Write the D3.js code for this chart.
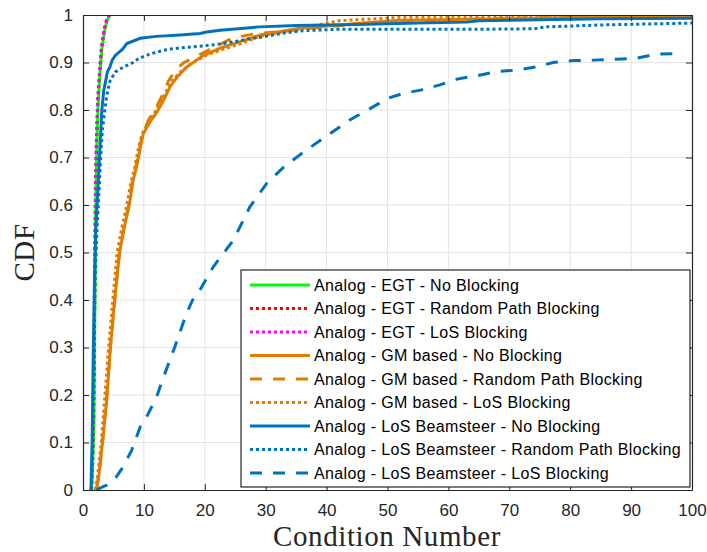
<!DOCTYPE html>
<html>
<head>
<meta charset="utf-8">
<script src="https://cdn.jsdelivr.net/npm/d3@7"></script>
<style>
  body { margin: 0; background: #fff; }
  svg { display: block; }
</style>
</head>
<body>
<div id="chart"></div>
<script>
// Axis ticks
const xTicks = [0, 10, 20, 30, 40, 50, 60, 70, 80, 90, 100];
const yTicks = [0, 0.1, 0.2, 0.3, 0.4, 0.5, 0.6, 0.7, 0.8, 0.9, 1];

// Series data: [condition number, CDF]
const egtNoBlock = [[1.4,0],[1.6,0.05],[1.8,0.15],[1.9,0.3],[2.0,0.45],[2.1,0.6],[2.25,0.72],[2.5,0.82],[2.8,0.88],[3.1,0.93],[3.6,0.97],[4.0,0.99],[4.4,1.0]];
const egtRandom = [[1.4,0],[1.55,0.05],[1.75,0.15],[1.85,0.3],[1.95,0.45],[2.05,0.6],[2.2,0.72],[2.45,0.82],[2.75,0.88],[3.05,0.93],[3.5,0.97],[3.9,0.99],[4.3,1.0]];
const egtLos = [[1.35,0],[1.5,0.05],[1.7,0.15],[1.8,0.3],[1.9,0.45],[2.0,0.6],[2.15,0.72],[2.4,0.82],[2.7,0.88],[3.0,0.93],[3.45,0.97],[3.85,0.99],[4.3,1.0]];

const gmNoBlock = [[2.2,0],[2.6,0.03],[3.2,0.1],[3.9,0.19],[4.5,0.3],[5.2,0.4],[6.0,0.5],[6.9,0.56],[7.6,0.6],[8.2,0.65],[8.8,0.68],[9.4,0.72],[9.9,0.75],[11,0.775],[12.1,0.795],[13.2,0.82],[14.3,0.849],[15.5,0.87],[17,0.89],[19.8,0.915],[22.5,0.93],[25.8,0.944],[29.1,0.958],[35.6,0.972],[45,0.982],[52,0.989],[74,0.993],[85,0.996],[100,0.999]];
const gmRandom = [[2.2,0],[2.6,0.03],[3.2,0.1],[3.9,0.2],[4.5,0.3],[5.2,0.4],[6.0,0.5],[6.8,0.56],[7.5,0.6],[8.1,0.65],[8.7,0.68],[9.3,0.72],[9.8,0.75],[10.8,0.78],[11.8,0.8],[13,0.83],[14,0.86],[15.2,0.885],[16.6,0.9],[18.2,0.91],[20,0.922],[22,0.935],[24,0.948],[26,0.955],[28,0.96],[33,0.966],[40,0.975],[48,0.985],[60,0.99],[75,0.995],[100,0.999]];
const gmLos = [[2.0,0],[2.4,0.03],[3.0,0.1],[3.6,0.2],[4.2,0.3],[4.9,0.4],[5.6,0.5],[6.5,0.56],[7.2,0.6],[7.9,0.65],[8.5,0.68],[9.1,0.72],[9.7,0.75],[10.8,0.775],[12,0.8],[13.3,0.83],[14.5,0.86],[16,0.88],[18,0.9],[20.5,0.917],[23,0.928],[26,0.94],[29,0.955],[33,0.965],[37,0.975],[42,0.988],[52,0.995],[100,1.0]];

const bsNoBlock = [[1.3,0],[1.5,0.1],[1.7,0.3],[1.9,0.45],[2.1,0.55],[2.4,0.62],[2.7,0.7],[2.9,0.75],[3.1,0.8],[3.4,0.84],[3.7,0.86],[4.0,0.88],[4.4,0.89],[4.8,0.905],[5.3,0.915],[6.5,0.928],[7.2,0.94],[9.4,0.951],[12,0.955],[16,0.958],[19.2,0.961],[20.3,0.964],[22.5,0.968],[29,0.975],[35,0.978],[45,0.98],[55,0.983],[63,0.985],[65,0.988],[75,0.99],[85,0.992],[100,0.993]];
const bsRandom = [[1.4,0],[1.6,0.1],[1.8,0.3],[2.0,0.45],[2.3,0.55],[2.6,0.62],[2.9,0.7],[3.2,0.76],[3.6,0.8],[3.9,0.83],[4.4,0.86],[5.3,0.88],[6.6,0.89],[8.2,0.9],[9.1,0.908],[11,0.918],[14,0.928],[17,0.932],[19,0.934],[22,0.938],[25,0.944],[27,0.949],[30,0.955],[33,0.962],[36,0.967],[42,0.97],[55,0.97],[65,0.97],[74,0.971],[76,0.975],[85,0.979],[100,0.983]];
const bsLos = [[2.2,0],[3.3,0.007],[3.9,0.01],[5.5,0.028],[6.6,0.049],[8.0,0.084],[9.4,0.133],[9.9,0.14],[12.1,0.196],[13,0.23],[15.1,0.302],[17,0.372],[18,0.4],[19.2,0.421],[21.4,0.47],[24.7,0.526],[27.4,0.596],[30.2,0.646],[33,0.68],[36.7,0.716],[40,0.745],[43.8,0.779],[47.7,0.807],[50.1,0.825],[52.6,0.835],[55.9,0.843],[58.6,0.853],[61.4,0.865],[64.6,0.872],[67.9,0.881],[71.2,0.884],[74.5,0.891],[77.2,0.9],[80.5,0.904],[83.8,0.905],[87.6,0.907],[90.9,0.909],[94.2,0.918],[98.5,0.919]];

const seriesNames = [
  "Analog - EGT - No Blocking",
  "Analog - EGT - Random Path Blocking",
  "Analog - EGT - LoS Blocking",
  "Analog - GM based - No Blocking",
  "Analog - GM based - Random Path Blocking",
  "Analog - GM based - LoS Blocking",
  "Analog - LoS Beamsteer - No Blocking",
  "Analog - LoS Beamsteer - Random Path Blocking",
  "Analog - LoS Beamsteer - LoS Blocking"
];
const seriesData = [egtNoBlock, egtRandom, egtLos, gmNoBlock, gmRandom, gmLos, bsNoBlock, bsRandom, bsLos];

// Styles
const orange = "#e07c00", blue = "#0072bd";
const seriesColors = ["#00ff00", "#ff0000", "#ff00ff", orange, orange, orange, blue, blue, blue];
const solid = null, dotted = "3,3", dashed = "12,11";
const seriesDash = [solid, dotted, dotted, solid, dashed, dotted, solid, dotted, dashed];

// Chart setup
const W = 707, H = 552;
const margin = { top: 15, right: 15, bottom: 62, left: 83 },
    width = W - margin.left - margin.right,
    height = H - margin.top - margin.bottom;

const svg = d3.select("#chart").append("svg")
    .attr("width", W)
    .attr("height", H);

const g = svg.append("g")
    .attr("transform", `translate(${margin.left},${margin.top})`);

const x = d3.scaleLinear().domain([0, 100]).range([0, width]);
const y = d3.scaleLinear().domain([0, 1]).range([height, 0]);

// Grid
g.append("g").selectAll("line").data(xTicks.slice(1, -1)).enter().append("line")
    .attr("x1", d => x(d)).attr("x2", d => x(d))
    .attr("y1", 0).attr("y2", height)
    .attr("stroke", "#e3e3e3").attr("stroke-width", 1);
g.append("g").selectAll("line").data(yTicks.slice(1, -1)).enter().append("line")
    .attr("y1", d => y(d)).attr("y2", d => y(d))
    .attr("x1", 0).attr("x2", width)
    .attr("stroke", "#e3e3e3").attr("stroke-width", 1);

// Data lines
g.append("clipPath").attr("id", "clip")
    .append("rect").attr("width", width).attr("height", height);

const line = d3.line().x(d => x(d[0])).y(d => y(d[1]));

g.append("g").attr("clip-path", "url(#clip)")
    .selectAll("path").data(seriesData).enter().append("path")
    .attr("d", line)
    .attr("fill", "none")
    .attr("stroke", (d, i) => seriesColors[i])
    .attr("stroke-width", 3)
    .attr("stroke-dasharray", (d, i) => seriesDash[i]);

// Axes
const fmt = d3.format("");
function styleAxis(sel) {
  sel.select(".domain").attr("stroke", "#262626").attr("stroke-width", 1.2);
  sel.selectAll(".tick line").attr("stroke", "#262626");
  sel.selectAll("text")
      .attr("fill", "#262626")
      .style("font-family", "'Liberation Sans', Arial, sans-serif")
      .style("font-size", "17px");
}
g.append("g").attr("transform", `translate(0,${height})`)
    .call(d3.axisBottom(x).tickValues(xTicks).tickFormat(fmt).tickSizeInner(-6).tickSizeOuter(0).tickPadding(14))
    .call(styleAxis);
g.append("g")
    .call(d3.axisLeft(y).tickValues(yTicks).tickFormat(fmt).tickSizeInner(-6).tickSizeOuter(0).tickPadding(10))
    .call(styleAxis);
g.append("g")
    .call(d3.axisTop(x).tickValues(xTicks).tickFormat("").tickSizeInner(-6).tickSizeOuter(0))
    .call(styleAxis);
g.append("g").attr("transform", `translate(${width},0)`)
    .call(d3.axisRight(y).tickValues(yTicks).tickFormat("").tickSizeInner(-6).tickSizeOuter(0))
    .call(styleAxis);

// Axis labels
svg.append("text")
    .attr("x", 387)
    .attr("y", 546)
    .attr("text-anchor", "middle")
    .attr("fill", "#262626")
    .style("font-family", "'Liberation Serif', 'Times New Roman', serif")
    .style("font-size", "29px")
    .style("letter-spacing", "0.6px")
    .text("Condition Number");
svg.append("text")
    .attr("transform", `translate(34,${margin.top + height / 2}) rotate(-90)`)
    .attr("text-anchor", "middle")
    .attr("fill", "#262626")
    .style("font-family", "'Liberation Serif', 'Times New Roman', serif")
    .style("font-size", "29px")
    .style("letter-spacing", "0.6px")
    .text("CDF");

// Legend
const legend = g.append("g").attr("transform", `translate(${241 - margin.left},${270 - margin.top})`);
legend.append("rect")
    .attr("width", 449).attr("height", 217)
    .attr("fill", "#fff")
    .attr("stroke", "#262626").attr("stroke-width", 1.2);
const rows = legend.selectAll("g.row").data(seriesNames).enter().append("g")
    .attr("class", "row")
    .attr("transform", (d, i) => `translate(0,${15 + i * 23.5})`);
rows.append("line")
    .attr("x1", 9).attr("x2", 69)
    .attr("stroke", (d, i) => seriesColors[i])
    .attr("stroke-width", 3)
    .attr("stroke-dasharray", (d, i) => seriesDash[i]);
rows.append("text")
    .attr("x", 73).attr("dy", "0.35em")
    .attr("fill", "#000")
    .style("font-family", "'Liberation Sans', Arial, sans-serif")
    .style("font-size", "16px")
    .style("letter-spacing", "0.35px")
    .text(d => d);
</script>
</body>
</html>
